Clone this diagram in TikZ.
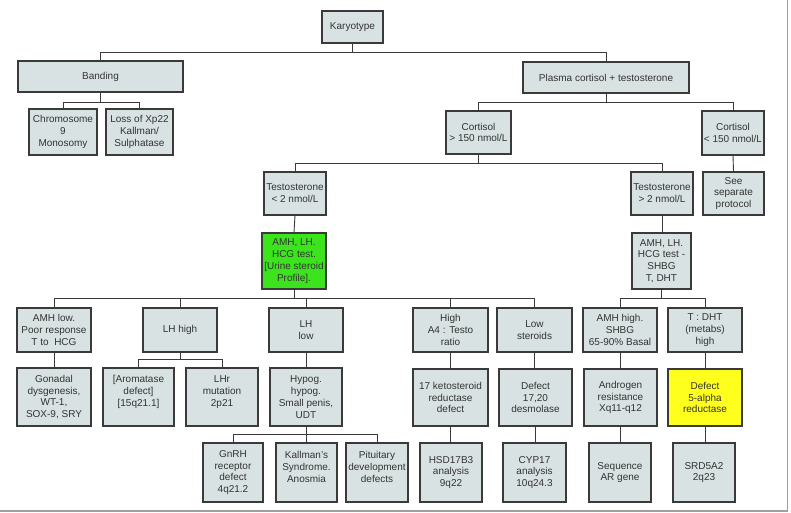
\documentclass[tikz,border=0pt]{standalone}
\usepackage{fontspec}
\setmainfont{Liberation Sans}
\begin{document}
\begin{tikzpicture}[x=1pt,y=-1pt,
  box/.style={draw=boxline, line width=1.1pt, fill=boxfill, inner sep=0pt,
    align=center, text=txt, font=\fontsize{10}{11.8}\selectfont},
  link/.style={draw=boxline, line width=0.9pt},
  frameline/.style={draw=framegray, line width=1.6pt}]
\definecolor{boxfill}{HTML}{D9E2E2}
\definecolor{boxline}{HTML}{3A3A3A}
\definecolor{txt}{HTML}{333333}
\definecolor{framegray}{HTML}{A0A0A0}
\definecolor{greenfill}{HTML}{3CE41E}
\definecolor{yellowfill}{HTML}{FFFF1E}
\useasboundingbox (0,0) rectangle (791,513);
\fill[white] (0,0) rectangle (791,513);

% frame
\coordinate (fr1) at (787.5,0);
\coordinate (fr2) at (787.5,511);
\coordinate (fr3) at (0,511);
\draw[frameline] (fr1) -- (fr2) -- (fr3);

% level 0-1
\node[box, minimum width=61pt, minimum height=32pt] (kary) at (352.5,27) {Karyotype};
\node[box, minimum width=165pt, minimum height=31pt] (band) at (100.5,76.5) {Banding};
\node[box, minimum width=166pt, minimum height=31pt] (plasma) at (606,77.5) {Plasma cortisol + testosterone};

% level 2
\node[box, minimum width=68pt, minimum height=46pt] (chrom) at (63,132) {Chromosome\\9\\Monosomy};
\node[box, minimum width=67pt, minimum height=46pt] (loss) at (139.5,132) {Loss of Xp22\\Kallman/\\Sulphatase};
\node[box, minimum width=65pt, minimum height=43pt] (cort1) at (478.5,132.5) {Cortisol\\> 150 nmol/L};
\node[box, minimum width=62pt, minimum height=44pt] (cort2) at (733,133) {Cortisol\\< 150 nmol/L};

% level 3
\node[box, minimum width=62pt, minimum height=43pt] (testo1) at (295,193.5) {Testosterone\\< 2 nmol/L};
\node[box, minimum width=62pt, minimum height=43pt] (testo2) at (662,193.5) {Testosterone\\> 2 nmol/L};
\node[box, minimum width=61pt, minimum height=43pt] (see) at (733.5,193.5) {See\\separate\\protocol};

% level 4
\node[box, fill=greenfill, minimum width=64pt, minimum height=56pt] (amh1) at (294,261) {AMH, LH.\\HCG test.\\{[}Urine steroid\\Profile{]}.};
\node[box, minimum width=59pt, minimum height=56pt] (amh2) at (661.5,261) {AMH, LH.\\HCG test -\\SHBG\\T, DHT};

% level 5
\node[box, minimum width=74pt, minimum height=44pt] (amhlow) at (54,330) {AMH low.\\Poor response\\T to\ \ HCG};
\node[box, minimum width=74pt, minimum height=44pt] (lhhigh) at (180,330) {LH high};
\node[box, minimum width=74pt, minimum height=44pt] (lhlow) at (306,330) {LH\\low};
\node[box, minimum width=75pt, minimum height=44pt] (higha4) at (450.5,330) {High\\A4 : Testo\\ratio};
\node[box, minimum width=75pt, minimum height=44pt] (lowst) at (534.5,330) {Low\\steroids};
\node[box, minimum width=74pt, minimum height=44pt] (amhhigh) at (620,330) {AMH high.\\SHBG\\65-90\% Basal};
\node[box, minimum width=74pt, minimum height=44pt] (tdht) at (705,330) {T : DHT\\(metabs)\\high};

% level 6
\node[box, minimum width=74pt, minimum height=58pt] (gonad) at (54,397) {Gonadal\\dysgenesis,\\WT-1,\\SOX-9, SRY};
\node[box, minimum width=71pt, minimum height=58pt] (arom) at (138.5,397) {{[}Aromatase\\defect{]}\\{[}15q21.1{]}\\ };
\node[box, minimum width=72pt, minimum height=58pt] (lhr) at (222,397) {LHr\\mutation\\2p21\\ };
\node[box, minimum width=72pt, minimum height=58pt] (hypog) at (306,397) {Hypog.\\hypog.\\Small penis,\\UDT};
\node[box, minimum width=75pt, minimum height=57pt] (keto) at (450.5,397.5) {17 ketosteroid\\reductase\\defect};
\node[box, minimum width=73pt, minimum height=57pt] (d1720) at (535.5,397.5) {Defect\\17,20\\desmolase};
\node[box, minimum width=73pt, minimum height=57pt] (andro) at (620.5,397.5) {Androgen\\resistance\\Xq11-q12};
\node[box, fill=yellowfill, minimum width=74pt, minimum height=57pt] (alpha) at (705,397.5) {Defect\\5-alpha\\reductase};

% level 7
\node[box, minimum width=60pt, minimum height=59pt] (gnrh) at (233,472.5) {GnRH\\receptor\\defect\\4q21.2};
\node[box, minimum width=61pt, minimum height=59pt] (kall) at (306.5,472.5) {Kallman's\\Syndrome.\\Anosmia\\ };
\node[box, minimum width=62pt, minimum height=59pt] (pit) at (377,472.5) {Pituitary\\development\\defects\\ };
\node[box, minimum width=62pt, minimum height=59pt] (hsd) at (451,472.5) {HSD17B3\\analysis\\9q22};
\node[box, minimum width=63pt, minimum height=59pt] (cyp) at (534.5,472.5) {CYP17\\analysis\\10q24.3};
\node[box, minimum width=62pt, minimum height=59pt] (seq) at (620,472.5) {Sequence\\AR gene};
\node[box, minimum width=62pt, minimum height=59pt] (srd) at (704,472.5) {SRD5A2\\2q23};

% connectors
\draw[link] (kary.south) -- ++(0,9) -| (band.north);
\draw[link] (kary.south) -- ++(0,9) -| (plasma.north);
\draw[link] (band.south) -- ++(0,10) -| (chrom.north);
\draw[link] (band.south) -- ++(0,10) -| (loss.north);
\draw[link] (plasma.south) -- ++(0,9) -| (cort1.north);
\draw[link] (plasma.south) -- ++(0,9) -| (cort2.north);
\draw[link] (cort1.south) -- ++(0,9) -| (testo1.north);
\draw[link] (cort1.south) -- ++(0,9) -| (testo2.north);
\draw[link] (cort2.south) -- (see.north);
\draw[link] (testo1.south) -- (amh1.north);
\draw[link] (testo2.south) -- (amh2.north-|testo2.south);
\draw[link] (amh1.south) -- ++(0,9) -| (amhlow.north);
\draw[link] (amh1.south) -- ++(0,9) -| (lhhigh.north);
\draw[link] (amh1.south) -- ++(0,9) -| (lhlow.north);
\draw[link] (amh1.south) -- ++(0,9) -| (higha4.north);
\draw[link] (amh1.south) -- ++(0,9) -| (lowst.north);
\draw[link] (amh2.south) -- ++(0,9) -| (amhhigh.north);
\draw[link] (amh2.south) -- ++(0,9) -| (tdht.north);
\draw[link] (amhlow.south) -- (gonad.north);
\draw[link] (lhhigh.south) -- ++(0,7) -| (arom.north);
\draw[link] (lhhigh.south) -- ++(0,7) -| (lhr.north);
\draw[link] (lhlow.south) -- (hypog.north);
\draw[link] (hypog.south) -- ++(0,8) -| (gnrh.north);
\draw[link] (hypog.south) -- ++(0,8) -| (kall.north);
\draw[link] (hypog.south) -- ++(0,8) -| (pit.north);
\draw[link] (higha4.south) -- (keto.north);
\draw[link] (keto.south) -- (hsd.north-|keto.south);
\draw[link] (lowst.south) -- (d1720.north-|lowst.south);
\draw[link] (d1720.south) -- (cyp.north-|d1720.south);
\draw[link] (amhhigh.south) -- (andro.north-|amhhigh.south);
\draw[link] (andro.south) -- (seq.north-|andro.south);
\draw[link] (tdht.south) -- (alpha.north);
\draw[link] (alpha.south) -- (srd.north-|alpha.south);
\end{tikzpicture}
\end{document}
